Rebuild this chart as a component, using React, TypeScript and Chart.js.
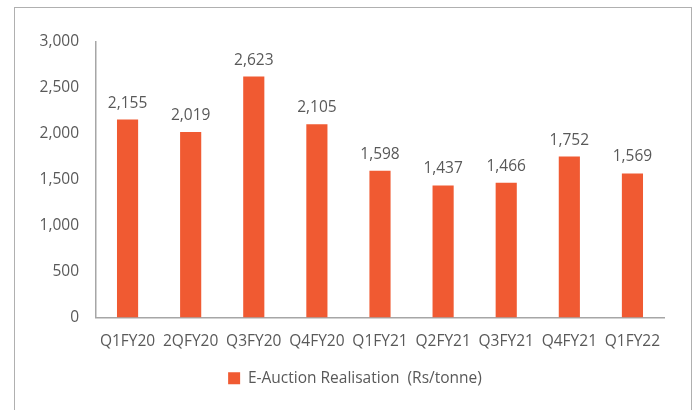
import React, { useEffect, useRef } from "react";
import { Chart, registerables } from "chart.js";

Chart.register(...registerables);

const categories = ["Q1FY20", "2QFY20", "Q3FY20", "Q4FY20", "Q1FY21", "Q2FY21", "Q3FY21", "Q4FY21", "Q1FY22"];
const realisation = [2155, 2019, 2623, 2105, 1598, 1437, 1466, 1752, 1569];
const seriesLabel = "E-Auction Realisation  (Rs/tonne)";
const yMin = 0;
const yMax = 3000;
const yStep = 500;

const FONT = "'Open Sans', 'Liberation Sans', sans-serif";
const FONT_SIZE = 15.5;
const TEXT_COLOR = "#595959";
const BAR_COLOR = "#F05A32";
const AXIS_COLOR = "#A6A6A6";

const fmt = (v: number) => v.toLocaleString("en-US");

const valueLabels = {
  id: "valueLabels",
  afterDatasetsDraw(chart: any) {
    const ctx = chart.ctx;
    const meta = chart.getDatasetMeta(0);
    ctx.save();
    ctx.font = `${FONT_SIZE}px ${FONT}`;
    ctx.fillStyle = TEXT_COLOR;
    ctx.textAlign = "center";
    ctx.textBaseline = "middle";
    meta.data.forEach((bar: any, i: number) => {
      ctx.fillText(fmt(realisation[i]), bar.x, bar.y - 16.5);
    });
    ctx.restore();
  },
};

const legendShift = {
  id: "legendShift",
  afterLayout(chart: any) {
    if (chart.legend) {
      chart.legend.left += 23;
      chart.legend.right += 23;
    }
  },
};

export default function App() {
  const ref = useRef<HTMLCanvasElement>(null);
  useEffect(() => {
    document.body.style.margin = "0";
    const chart = new Chart(ref.current!, {
      type: "bar",
      data: {
        labels: categories,
        datasets: [
          {
            label: seriesLabel,
            data: realisation,
            backgroundColor: BAR_COLOR,
            borderWidth: 0,
            categoryPercentage: 1,
            barPercentage: 0.335,
          },
        ],
      },
      options: {
        responsive: false,
        animation: false,
        maintainAspectRatio: false,
        layout: { padding: { top: 42, right: 34, bottom: 14, left: 0 } },
        font: { family: FONT, size: FONT_SIZE },
        color: TEXT_COLOR,
        plugins: {
          legend: {
            position: "bottom",
            labels: {
              boxWidth: 12,
              boxHeight: 12,
              padding: 10,
              color: TEXT_COLOR,
              font: { family: FONT, size: FONT_SIZE },
            },
          },
          tooltip: { enabled: false },
        },
        scales: {
          x: {
            grid: { display: false, drawTicks: false },
            border: { display: true, color: AXIS_COLOR, width: 1.5 },
            ticks: {
              color: TEXT_COLOR,
              font: { family: FONT, size: FONT_SIZE },
              padding: 15,
              maxRotation: 0,
              minRotation: 0,
              autoSkip: false,
            },
            afterFit: (s: any) => {
              s.height = 43;
            },
          },
          y: {
            min: yMin,
            max: yMax,
            grid: { display: false, drawTicks: false },
            border: { display: true, color: AXIS_COLOR, width: 1.5 },
            ticks: {
              stepSize: yStep,
              color: TEXT_COLOR,
              font: { family: FONT, size: FONT_SIZE },
              padding: 17,
              callback: (v: any) => fmt(Number(v)),
            },
            afterFit: (s: any) => {
              s.width = 96;
            },
          },
        },
      },
      plugins: [valueLabels, legendShift],
    });
    return () => chart.destroy();
  }, []);

  return (
    <div style={{ position: "relative", width: 698, height: 410, overflow: "hidden", background: "#fff" }}>
      <div
        style={{
          position: "absolute",
          left: 14,
          top: 7,
          width: 678,
          height: 420,
          border: "1px solid #B0B0B0",
          boxSizing: "border-box",
        }}
      />
      <canvas ref={ref} width={698} height={410} style={{ position: "absolute", left: 0, top: 0 }} />
    </div>
  );
}
